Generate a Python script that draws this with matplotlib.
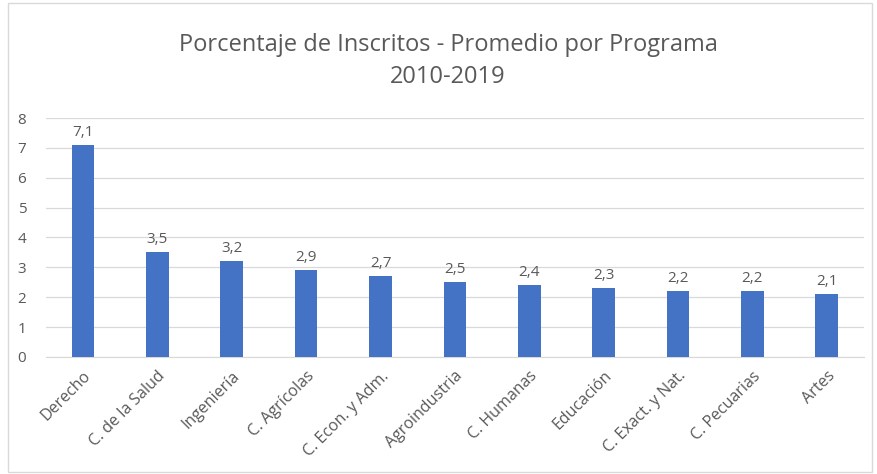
import matplotlib
matplotlib.use('Agg')
import matplotlib.pyplot as plt
from matplotlib.patches import Rectangle

programas = ['Derecho', 'C. de la Salud', 'Ingeniería', 'C. Agrícolas',
             'C. Econ. y Adm.', 'Agroindustria', 'C. Humanas', 'Educación',
             'C. Exact. y Nat.', 'C. Pecuarias', 'Artes']
porcentaje = [7.1, 3.5, 3.2, 2.9, 2.7, 2.5, 2.4, 2.3, 2.2, 2.2, 2.1]

plt.rcParams['font.family'] = ['Open Sans', 'DejaVu Sans']
gris = '#595959'

fig = plt.figure(figsize=(8.77, 4.74), dpi=100)
ax = fig.add_axes([0.0522, 0.247, 0.933, 0.504])

x = range(len(programas))
barras = ax.bar(x, porcentaje, width=0.305, color='#4472C4', zorder=3)

for b, v in zip(barras, porcentaje):
    ax.text(b.get_x() + b.get_width() / 2, v + 0.17, f'{v:.1f}'.replace('.', ','),
            ha='center', va='bottom', fontsize=11, color=gris)

ax.set_xlim(-0.5, len(programas) - 0.5)
ax.set_ylim(0, 8)
ax.set_yticks(range(9))
ax.set_xticks(list(x))
ax.set_xticklabels(programas, rotation=45, ha='right', rotation_mode='anchor',
                   fontsize=11.5, color=gris)
for lbl in ax.get_xticklabels():
    lbl.set_x(lbl.get_position()[0])
ax.tick_params(axis='y', labelsize=11, labelcolor=gris, length=0, pad=14)
ax.tick_params(axis='x', length=0, pad=8)
ax.grid(axis='y', color='#d9d9d9', linewidth=0.9, zorder=0)
for s in ['top', 'right', 'left']:
    ax.spines[s].set_visible(False)
ax.spines['bottom'].set_color('#d9d9d9')

fig.text(0.511, 0.905, 'Porcentaje de Inscritos - Promedio por Programa',
         ha='center', va='center', fontsize=17, color=gris)
fig.text(0.511, 0.838, '2010-2019', ha='center', va='center', fontsize=17, color=gris)

fig.patches.append(Rectangle((0.009, 0.005), 0.985, 0.988, transform=fig.transFigure,
                             fill=False, edgecolor='#d9d9d9', linewidth=1))

fig.savefig('out.png', dpi=100)
